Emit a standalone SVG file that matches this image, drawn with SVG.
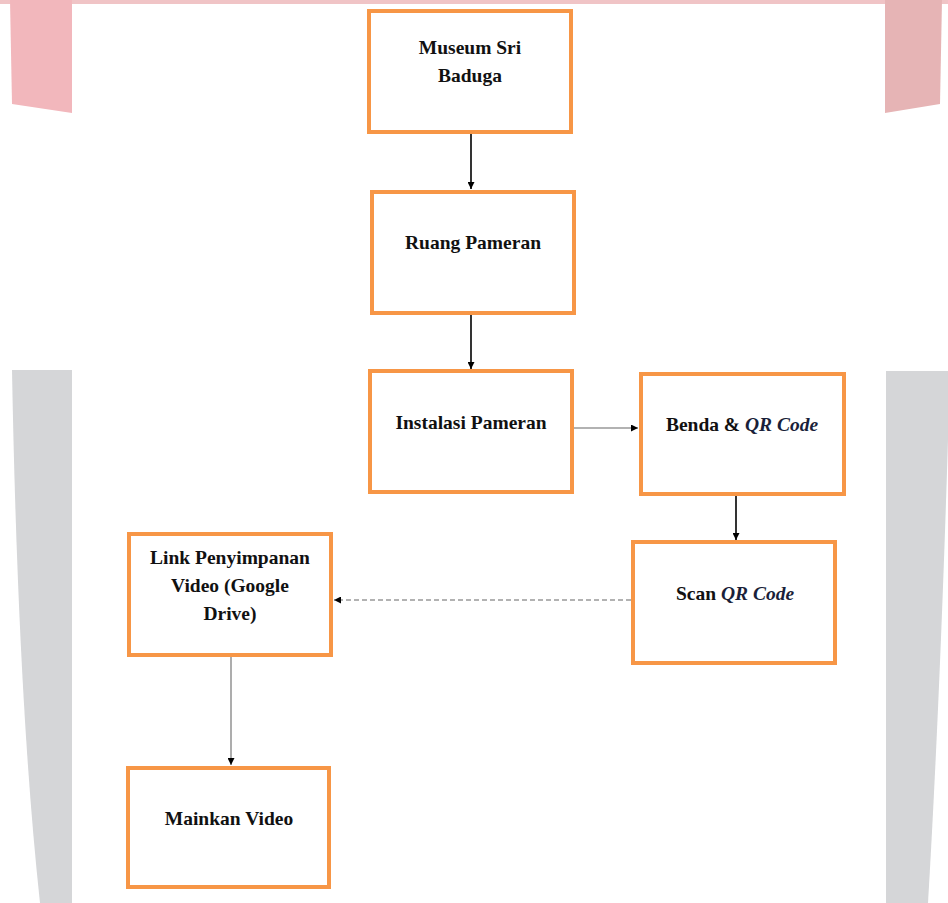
<svg xmlns="http://www.w3.org/2000/svg" width="948" height="903" viewBox="0 0 948 903">
<style>
.box{fill:#ffffff;stroke:#f79646;stroke-width:4}
.t{font-family:'Liberation Serif','DejaVu Serif',serif;font-weight:bold;font-size:19.5px;fill:#111111;text-anchor:middle}
.i{font-style:italic;fill:#1a1f3a}
.c{fill:none;stroke-width:1.6}
</style>
<defs>
<marker id="ah" viewBox="0 0 10 10" refX="10" refY="5" markerWidth="7" markerHeight="7" markerUnits="userSpaceOnUse" orient="auto">
<path d="M0,0 L10,5 L0,10 z" fill="#000000"/>
</marker>
</defs>
<g id="background">
<rect x="0" y="0" width="948" height="903" fill="#ffffff"/>
<rect x="0" y="0" width="948" height="4" fill="#f0c4c6"/>
<path d="M10,0 L72,0 L72,113 L12,104 Z" fill="#f2b7bc"/>
<path d="M885,0 L942,0 L940,104 L885,113 Z" fill="#e6b4b5"/>
<path d="M12,370 L72,370 L72,903 L40,903 Q18,700 12,370 Z" fill="#d5d6d8"/>
<path d="M886,371 L948,371 L948,440 Q940,700 928,903 L886,903 Z" fill="#d5d6d8"/>
</g>
<g id="connectors">
<line class="c" x1="471" y1="133" x2="471" y2="189" stroke="#000000" marker-end="url(#ah)"/>
<line class="c" x1="471" y1="314" x2="471" y2="369" stroke="#000000" marker-end="url(#ah)"/>
<line class="c" x1="574" y1="428" x2="638" y2="428" stroke="#999999" marker-end="url(#ah)"/>
<line class="c" x1="736" y1="496" x2="736" y2="540" stroke="#000000" marker-end="url(#ah)"/>
<line class="c" x1="631" y1="600" x2="334" y2="600" stroke="#999999" stroke-dasharray="5,3" marker-end="url(#ah)"/>
<line class="c" x1="231" y1="657" x2="231" y2="765" stroke="#999999" marker-end="url(#ah)"/>
</g>
<g id="n1">
<rect class="box" x="369" y="11" width="202" height="121"/>
<text class="t" x="470" y="54">Museum Sri</text>
<text class="t" x="470" y="82">Baduga</text>
</g>
<g id="n2">
<rect class="box" x="372" y="192" width="202" height="121"/>
<text class="t" x="473" y="249">Ruang Pameran</text>
</g>
<g id="n3">
<rect class="box" x="370" y="371" width="202" height="121"/>
<text class="t" x="471" y="429">Instalasi Pameran</text>
</g>
<g id="n4">
<rect class="box" x="641" y="374" width="203" height="120"/>
<text class="t" x="742" y="431">Benda &amp; <tspan class="i">QR Code</tspan></text>
</g>
<g id="n5">
<rect class="box" x="633" y="542" width="202" height="121"/>
<text class="t" x="735" y="600">Scan <tspan class="i">QR Code</tspan></text>
</g>
<g id="n6">
<rect class="box" x="129" y="534" width="202" height="121"/>
<text class="t" x="230" y="564">Link Penyimpanan</text>
<text class="t" x="230" y="592">Video (Google</text>
<text class="t" x="230" y="620">Drive)</text>
</g>
<g id="n7">
<rect class="box" x="128" y="768" width="201" height="119"/>
<text class="t" x="229" y="825">Mainkan Video</text>
</g>
</svg>
